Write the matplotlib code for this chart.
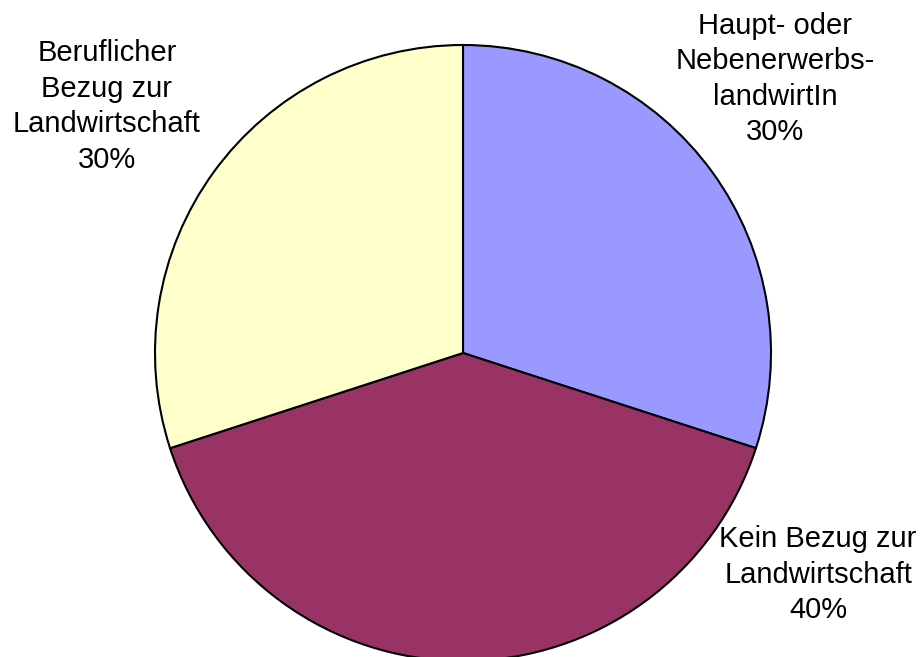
import matplotlib.pyplot as plt

# slice data, clockwise from 12 o'clock
labels = ["Haupt- oder\nNebenerwerbs-\nlandwirtIn", "Kein Bezug zur\nLandwirtschaft", "Beruflicher\nBezug zur\nLandwirtschaft"]
shares = [30, 40, 30]
colors = ["#9999FF", "#993366", "#FFFFCC"]
label_pos = [(1.013, 0.89), (1.153, -0.72), (-1.156, 0.80)]

plt.rcParams["font.family"] = ["Liberation Sans", "DejaVu Sans"]

fig = plt.figure(figsize=(9.24, 6.57), dpi=100)
ax = fig.add_axes([0, 0, 1, 1])

ax.pie(shares, colors=colors, startangle=90, counterclock=False, radius=1.0,
       wedgeprops=dict(edgecolor="black", linewidth=1.5))

for lab, val, (x, y) in zip(labels, shares, label_pos):
    ax.text(x, y, f"{lab}\n{val}%", ha="center", va="center", fontsize=21, linespacing=1.34)

ax.set_aspect("auto")
ax.set_xlim(-463 / 308, (924 - 463) / 308)
ax.set_ylim(-(657 - 353) / 308, 353 / 308)
ax.axis("off")

fig.savefig("out.png", dpi=100)
